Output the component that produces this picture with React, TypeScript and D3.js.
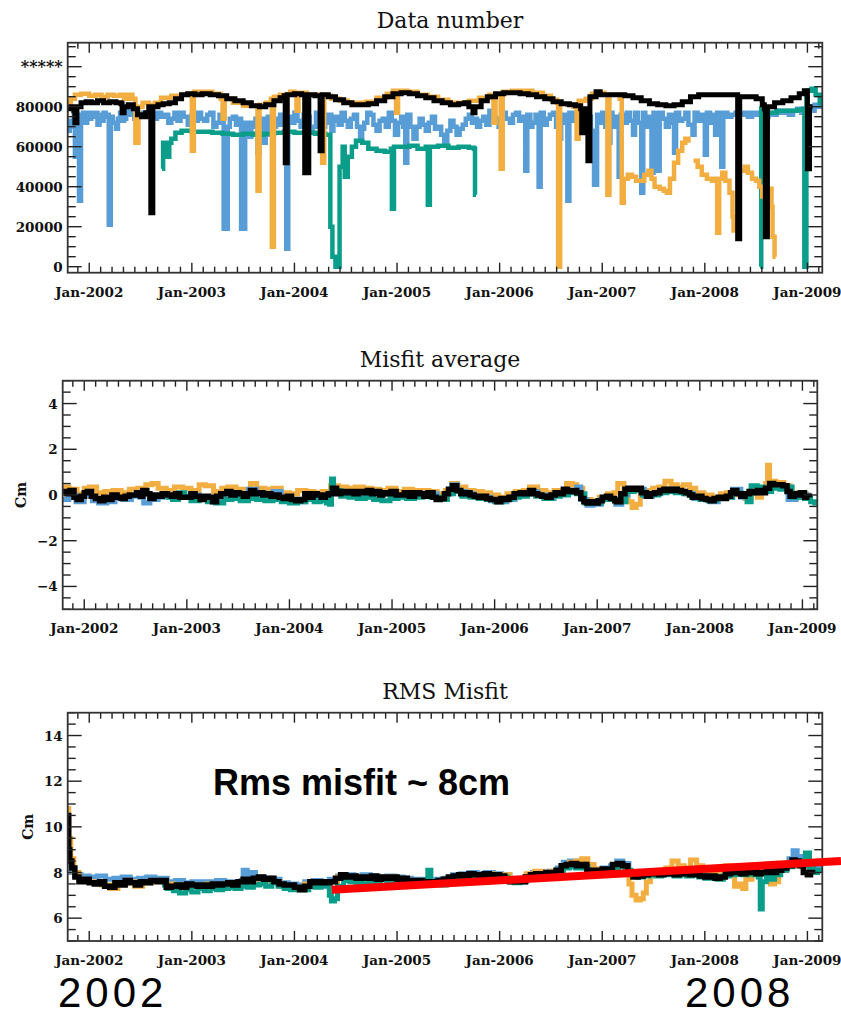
import React from 'react';
import * as d3 from 'd3';

type Pt = [number, number | null];

const years = [2002, 2003, 2004, 2005, 2006, 2007, 2008, 2009];
const xDomain: [number, number] = [2001.79, 2009.145];

const colors = { blue: '#589dd5', teal: '#0a9e8a', orange: '#f2ae40', black: '#000000' };

// ---- Data number panel
const dnTicks = [0, 20000, 40000, 60000, 80000, 100000];
const dnTickLabels = ['0', '20000', '40000', '60000', '80000', '*****'];

const dnBlack: Pt[] = [
  [2001.78, 79000], [2001.82, 80000], [2001.85, 78000], [2001.86, 72000], [2001.88, 80000], [2001.92, 82000],
  [2001.97, 82500], [2002.02, 82000], [2002.08, 83000], [2002.14, 82000], [2002.2, 82500], [2002.26, 82000],
  [2002.31, 81500], [2002.32, 77000], [2002.34, 80000], [2002.38, 81000], [2002.43, 79000], [2002.47, 76000],
  [2002.51, 75000], [2002.55, 77000], [2002.58, 80000], [2002.6, 27000], [2002.62, 80000], [2002.67, 81000],
  [2002.72, 81500], [2002.78, 82000], [2002.84, 84000], [2002.9, 86000], [2002.96, 86500], [2003.03, 86000],
  [2003.1, 86500], [2003.18, 86000], [2003.26, 85500], [2003.34, 84000], [2003.42, 83000], [2003.5, 82000],
  [2003.58, 80500], [2003.66, 80000], [2003.72, 81000], [2003.8, 83000], [2003.86, 84500], [2003.9, 85500],
  [2003.91, 52000], [2003.93, 86000], [2004.0, 86500], [2004.07, 86000], [2004.1, 47000], [2004.14, 86000],
  [2004.2, 85500], [2004.25, 58000], [2004.27, 86000], [2004.33, 85000], [2004.4, 83500], [2004.48, 82000],
  [2004.56, 81000], [2004.64, 81000], [2004.72, 81500], [2004.8, 83000], [2004.88, 85000], [2004.96, 86500],
  [2005.04, 87000], [2005.12, 86500], [2005.2, 85500], [2005.28, 84500], [2005.36, 83000], [2005.44, 82000],
  [2005.52, 81000], [2005.6, 81500], [2005.66, 82000], [2005.7, 80000], [2005.74, 77000], [2005.76, 80000],
  [2005.82, 83000], [2005.88, 85000], [2005.96, 86500], [2006.04, 87000], [2006.12, 87000], [2006.2, 86500],
  [2006.28, 86000], [2006.36, 85000], [2006.44, 84000], [2006.52, 82500], [2006.6, 81500], [2006.68, 81000],
  [2006.74, 80500], [2006.79, 79000], [2006.8, 67000], [2006.82, 79000], [2006.86, 53000], [2006.88, 85000],
  [2006.94, 87500], [2006.98, 86000], [2007.06, 86000], [2007.14, 86000], [2007.22, 85500], [2007.3, 84500],
  [2007.38, 83000], [2007.46, 81500], [2007.54, 81000], [2007.62, 80500], [2007.7, 81000], [2007.78, 82500],
  [2007.86, 85000], [2007.94, 86000], [2008.02, 86000], [2008.1, 86000], [2008.18, 86000], [2008.26, 86000],
  [2008.31, 86000], [2008.32, 14000], [2008.34, 85000], [2008.42, 85000], [2008.5, 84000], [2008.56, 81000],
  [2008.58, 79000], [2008.59, 15000], [2008.61, 80000], [2008.68, 82000], [2008.76, 83000], [2008.84, 84500],
  [2008.92, 86500], [2008.97, 88000], [2009.0, 49000], [2009.02, 80000], [2009.05, 80000],
];

const dnBlue: Pt[] = [
  [2001.76, 70000], [2001.79, 68000], [2001.81, 73000], [2001.83, 70000], [2001.85, 76000], [2001.86, 55000],
  [2001.88, 76000], [2001.9, 33000], [2001.92, 74000], [2001.94, 77000], [2001.96, 72000], [2001.98, 77000],
  [2002.0, 74000], [2002.02, 77000], [2002.04, 75000], [2002.06, 77000], [2002.08, 71000], [2002.1, 76000],
  [2002.12, 73000], [2002.14, 77000], [2002.16, 75000], [2002.18, 76000], [2002.19, 21000], [2002.21, 75000],
  [2002.23, 72000], [2002.26, 69000], [2002.28, 74000], [2002.3, 77000], [2002.32, 73000], [2002.34, 74000],
  [2002.36, 78000], [2002.38, 76000], [2002.4, 78000], [2002.42, 77000], [2002.44, 74000], [2002.46, 76000],
  [2002.5, 77000], [2002.55, 75000], [2002.6, 76000], [2002.63, 74000], [2002.66, 77000], [2002.7, 75000],
  [2002.74, 76000], [2002.77, 72000], [2002.8, 74000], [2002.83, 77000], [2002.86, 73000], [2002.89, 77000],
  [2002.92, 75000], [2002.96, 71000], [2003.0, 76000], [2003.03, 73000], [2003.06, 77000], [2003.09, 74000],
  [2003.12, 73000], [2003.15, 76000], [2003.18, 77000], [2003.21, 70000], [2003.24, 72000], [2003.27, 76000],
  [2003.29, 75000], [2003.31, 19000], [2003.35, 70000], [2003.37, 74000], [2003.4, 75000], [2003.43, 71000],
  [2003.46, 74000], [2003.48, 19000], [2003.52, 72000], [2003.54, 68000], [2003.56, 65000], [2003.58, 72000],
  [2003.6, 70000], [2003.62, 74000], [2003.64, 57000], [2003.66, 68000], [2003.68, 74000], [2003.7, 62000],
  [2003.72, 66000], [2003.74, 75000], [2003.76, 72000], [2003.78, 66000], [2003.8, 70000], [2003.82, 74000],
  [2003.84, 71000], [2003.86, 76000], [2003.88, 71000], [2003.92, 9000], [2003.94, 75000], [2003.97, 72000],
  [2004.0, 77000], [2004.03, 73000], [2004.06, 70000], [2004.09, 76000], [2004.12, 75000], [2004.15, 69000],
  [2004.18, 70000], [2004.21, 77000], [2004.24, 76000], [2004.27, 70000], [2004.3, 72000], [2004.33, 76000],
  [2004.36, 68000], [2004.38, 73000], [2004.4, 75000], [2004.43, 71000], [2004.46, 77000], [2004.49, 73000],
  [2004.52, 70000], [2004.55, 74000], [2004.58, 76000], [2004.61, 70000], [2004.64, 64000], [2004.66, 69000],
  [2004.68, 72000], [2004.71, 77000], [2004.74, 76000], [2004.77, 71000], [2004.8, 68000], [2004.83, 73000],
  [2004.86, 74000], [2004.89, 70000], [2004.92, 77000], [2004.95, 73000], [2004.98, 66000], [2005.01, 72000],
  [2005.04, 75000], [2005.06, 70000], [2005.08, 52000], [2005.1, 76000], [2005.13, 70000], [2005.16, 64000],
  [2005.19, 70000], [2005.22, 74000], [2005.25, 71000], [2005.28, 68000], [2005.31, 72000], [2005.34, 75000],
  [2005.37, 69000], [2005.4, 70000], [2005.43, 66000], [2005.46, 62000], [2005.49, 68000], [2005.52, 73000],
  [2005.55, 70000], [2005.58, 66000], [2005.61, 69000], [2005.64, 71000], [2005.67, 74000], [2005.7, 76000],
  [2005.73, 72000], [2005.76, 74000], [2005.78, 70000], [2005.81, 73000], [2005.84, 75000], [2005.87, 71000],
  [2005.9, 78000], [2005.93, 75000], [2005.96, 74000], [2005.99, 70000], [2006.02, 77000], [2006.06, 74000],
  [2006.1, 72000], [2006.13, 76000], [2006.16, 77000], [2006.19, 73000], [2006.22, 75000], [2006.25, 48000],
  [2006.27, 76000], [2006.3, 70000], [2006.32, 72000], [2006.35, 76000], [2006.38, 40000], [2006.4, 77000],
  [2006.43, 71000], [2006.46, 74000], [2006.49, 76000], [2006.52, 77000], [2006.55, 70000], [2006.58, 64000],
  [2006.6, 72000], [2006.62, 76000], [2006.66, 33000], [2006.68, 77000], [2006.71, 73000], [2006.74, 76000],
  [2006.77, 72000], [2006.8, 70000], [2006.83, 74000], [2006.86, 75000], [2006.89, 68000], [2006.92, 41000],
  [2006.95, 76000], [2006.98, 72000], [2007.0, 77000], [2007.03, 70000], [2007.06, 62000], [2007.08, 77000],
  [2007.1, 73000], [2007.12, 70000], [2007.14, 75000], [2007.16, 45000], [2007.18, 76000], [2007.21, 72000],
  [2007.24, 77000], [2007.27, 73000], [2007.3, 66000], [2007.32, 77000], [2007.35, 72000], [2007.38, 37000],
  [2007.4, 77000], [2007.42, 73000], [2007.44, 70000], [2007.46, 75000], [2007.48, 47000], [2007.5, 77000],
  [2007.52, 72000], [2007.54, 48000], [2007.56, 77000], [2007.59, 74000], [2007.62, 70000], [2007.65, 76000],
  [2007.68, 72000], [2007.7, 57000], [2007.72, 77000], [2007.75, 73000], [2007.78, 74000], [2007.81, 77000],
  [2007.84, 71000], [2007.88, 66000], [2007.9, 77000], [2007.93, 73000], [2007.96, 76000], [2008.0, 56000],
  [2008.02, 77000], [2008.05, 72000], [2008.08, 76000], [2008.1, 66000], [2008.12, 77000], [2008.14, 73000],
  [2008.16, 50000], [2008.18, 77000], [2008.22, 75000], [2008.26, 76000], [2008.3, 77000], [2008.34, 76000],
  [2008.38, 77000], [2008.42, 75000], [2008.46, 77000], [2008.5, 76000], [2008.54, 77000], [2008.58, 75000],
  [2008.62, 77000], [2008.66, 76000], [2008.7, 78000], [2008.74, 77000], [2008.78, 78000], [2008.82, 76000],
  [2008.86, 78000], [2008.9, 79000], [2008.94, 77000], [2008.98, 78000], [2009.01, 80000], [2009.04, 78000],
  [2009.07, 81000], [2009.1, 80000], [2009.14, 79000],
];

const dnTeal: Pt[] = [
  [2002.71, 49000], [2002.72, 62000], [2002.74, 57000], [2002.76, 55000], [2002.78, 62000], [2002.8, 64000],
  [2002.84, 67000], [2002.9, 68000], [2003.0, 67500], [2003.1, 67500], [2003.2, 67000], [2003.3, 66500],
  [2003.4, 66000], [2003.5, 66500], [2003.6, 66000], [2003.7, 66500], [2003.8, 67000], [2003.9, 67500],
  [2004.0, 67000], [2004.1, 67000], [2004.2, 66500], [2004.3, 66000], [2004.35, 20000], [2004.37, 5000],
  [2004.4, 0], [2004.44, 50000], [2004.47, 60000], [2004.49, 45000], [2004.52, 55000], [2004.56, 60000],
  [2004.6, 63000], [2004.66, 62000], [2004.72, 59000], [2004.8, 58000], [2004.88, 57500], [2004.94, 59000],
  [2004.95, 29000], [2004.97, 60000], [2005.04, 60000], [2005.12, 60500], [2005.2, 59000], [2005.28, 60000],
  [2005.3, 31000], [2005.32, 60000], [2005.4, 60500], [2005.5, 59500], [2005.6, 60000], [2005.7, 59500],
  [2005.75, 59000], [2005.76, 36000], [2005.77, 36000], [2005.78, null],
  [2008.53, null], [2008.54, 0], [2008.55, 79000], [2008.57, 72000], [2008.59, 68000], [2008.61, 77000],
  [2008.7, 78000], [2008.8, 78000], [2008.9, 78500], [2008.96, 79000], [2008.97, 0], [2008.99, 88000],
  [2009.04, 89000], [2009.08, 86000], [2009.12, 82000], [2009.14, 80000],
];

const dnOrange: Pt[] = [
  [2001.76, 75000], [2001.78, 82000], [2001.82, 84000], [2001.86, 86000], [2001.92, 86500], [2002.0, 85500],
  [2002.06, 86000], [2002.12, 85000], [2002.18, 86000], [2002.24, 85500], [2002.3, 86000], [2002.34, 84000],
  [2002.38, 86000], [2002.42, 84000], [2002.45, 62000], [2002.48, 80000], [2002.52, 82000], [2002.58, 81000],
  [2002.64, 82000], [2002.7, 84500], [2002.8, 85500], [2002.9, 86000], [2002.97, 86500], [2003.0, 58000],
  [2003.02, 87500], [2003.1, 87500], [2003.2, 86500], [2003.28, 84000], [2003.3, 74000], [2003.32, 84000],
  [2003.4, 82000], [2003.5, 80500], [2003.6, 80500], [2003.64, 38000], [2003.66, 81000], [2003.72, 82000],
  [2003.77, 84000], [2003.78, 10000], [2003.8, 85000], [2003.86, 86000], [2003.96, 87500], [2004.0, 87000],
  [2004.02, 78000], [2004.04, 87000], [2004.12, 86000], [2004.2, 86000], [2004.26, 86000], [2004.27, 52000],
  [2004.29, 85500], [2004.36, 84000], [2004.44, 83000], [2004.52, 82000], [2004.6, 82000], [2004.7, 82500],
  [2004.8, 84500], [2004.9, 86500], [2004.96, 88000], [2004.99, 77000], [2005.01, 88000], [2005.1, 87500],
  [2005.2, 86000], [2005.3, 85000], [2005.4, 83500], [2005.5, 82000], [2005.6, 82000], [2005.7, 83000],
  [2005.8, 84500], [2005.9, 86000], [2005.94, 72000], [2005.96, 86000], [2006.01, 49000], [2006.03, 87500],
  [2006.12, 88000], [2006.22, 88000], [2006.32, 87000], [2006.42, 85500], [2006.5, 83500], [2006.56, 82000],
  [2006.57, 0], [2006.59, 81500], [2006.66, 81000], [2006.72, 80000], [2006.75, 64000], [2006.77, 83000],
  [2006.84, 84000], [2006.9, 86500], [2006.96, 87000], [2007.02, 86000], [2007.05, 36000], [2007.07, 86000],
  [2007.12, 86000], [2007.17, 84000], [2007.19, 32000], [2007.21, 44000], [2007.25, 46000], [2007.29, 45000],
  [2007.33, 43000], [2007.37, 43000], [2007.41, 46000], [2007.45, 48000], [2007.48, 44000], [2007.51, 40000],
  [2007.56, 39000], [2007.6, 38000], [2007.63, 37000], [2007.66, 44000], [2007.7, 52000], [2007.74, 58000],
  [2007.78, 62000], [2007.81, 64000], [2007.84, 62000], [2007.86, null], [2007.89, 53000], [2007.93, 50000],
  [2007.97, 46000], [2008.02, 44000], [2008.07, 43000], [2008.1, 44000], [2008.12, 17000], [2008.14, 44000],
  [2008.17, 47000], [2008.2, 43000], [2008.24, 37000], [2008.27, 25000], [2008.28, 17000], [2008.3, null],
  [2008.36, 48000], [2008.39, 50000], [2008.42, 47000], [2008.46, 44000], [2008.5, 43000], [2008.53, 40000],
  [2008.56, 34000], [2008.58, null], [2008.6, 39000], [2008.63, 39000], [2008.65, 30000], [2008.66, 15000],
  [2008.68, 5000], [2008.69, 5000],
];

// ---- Misfit average panel
const maTicks = [-4, -2, 0, 2, 4];
const maTickLabels = ['\u22124', '\u22122', '0', '2', '4'];

const maBlack: Pt[] = [
  [2001.79, 0.15], [2001.83, 0.05], [2001.86, 0.2], [2001.9, -0.1], [2001.93, -0.2], [2001.97, -0.05],
  [2002.0, 0.1], [2002.03, 0.15], [2002.07, -0.05], [2002.11, -0.15], [2002.15, -0.25], [2002.19, -0.1],
  [2002.23, -0.2], [2002.27, 0.0], [2002.32, -0.1], [2002.36, -0.15], [2002.4, -0.05], [2002.44, 0.0],
  [2002.47, 0.0], [2002.51, 0.1], [2002.55, -0.05], [2002.57, 0.2], [2002.61, 0.05], [2002.64, -0.15],
  [2002.68, 0.0], [2002.72, -0.05], [2002.76, 0.05], [2002.81, 0.0], [2002.85, -0.05], [2002.89, 0.05],
  [2002.93, -0.1], [2003.0, -0.1], [2003.04, 0.05], [2003.08, -0.05], [2003.13, -0.2], [2003.17, -0.05],
  [2003.21, -0.1], [2003.25, -0.3], [2003.29, -0.05], [2003.33, 0.05], [2003.39, 0.15], [2003.43, 0.0],
  [2003.47, 0.1], [2003.51, 0.05], [2003.55, -0.05], [2003.59, 0.05], [2003.62, 0.2], [2003.66, 0.05],
  [2003.7, 0.1], [2003.74, 0.0], [2003.78, 0.05], [2003.82, -0.05], [2003.86, 0.0], [2003.9, -0.1],
  [2003.94, -0.15], [2003.98, -0.05], [2004.02, -0.2], [2004.06, -0.25], [2004.11, -0.2], [2004.15, 0.05],
  [2004.19, -0.1], [2004.23, 0.05], [2004.27, 0.0], [2004.31, -0.1], [2004.35, 0.0], [2004.38, 0.05],
  [2004.42, 0.3], [2004.46, 0.05], [2004.5, 0.15], [2004.55, 0.1], [2004.59, 0.15], [2004.63, 0.05],
  [2004.67, 0.15], [2004.72, 0.1], [2004.76, 0.2], [2004.8, 0.05], [2004.84, 0.15], [2004.88, 0.0],
  [2004.91, 0.1], [2004.95, 0.05], [2004.99, 0.15], [2005.04, 0.0], [2005.08, 0.0], [2005.12, 0.1],
  [2005.17, -0.05], [2005.22, 0.1], [2005.27, 0.05], [2005.31, -0.05], [2005.35, 0.1], [2005.4, -0.1],
  [2005.43, -0.2], [2005.47, -0.15], [2005.51, 0.05], [2005.55, 0.25], [2005.59, 0.4], [2005.63, 0.2],
  [2005.67, 0.05], [2005.71, 0.1], [2005.76, 0.0], [2005.8, -0.05], [2005.84, -0.1], [2005.88, -0.05],
  [2005.92, -0.15], [2005.96, -0.2], [2006.02, -0.3], [2006.06, -0.15], [2006.1, -0.2], [2006.14, -0.1],
  [2006.19, 0.05], [2006.25, 0.1], [2006.3, 0.05], [2006.34, 0.2], [2006.38, 0.05], [2006.42, 0.0],
  [2006.46, -0.05], [2006.51, -0.1], [2006.55, 0.0], [2006.59, 0.1], [2006.63, 0.05], [2006.67, 0.25],
  [2006.71, 0.15], [2006.76, 0.2], [2006.8, 0.1], [2006.84, -0.15], [2006.87, -0.3], [2006.9, -0.35],
  [2006.94, -0.3], [2006.97, -0.35], [2007.01, -0.25], [2007.05, -0.1], [2007.09, -0.05], [2007.13, -0.15],
  [2007.17, -0.25], [2007.19, -0.3], [2007.23, 0.05], [2007.27, 0.25], [2007.3, 0.3], [2007.34, 0.25],
  [2007.39, 0.3], [2007.43, 0.1], [2007.48, -0.05], [2007.52, 0.05], [2007.56, 0.1], [2007.61, 0.2],
  [2007.65, 0.25], [2007.69, 0.2], [2007.74, 0.25], [2007.78, 0.2], [2007.82, 0.15], [2007.86, 0.1],
  [2007.9, 0.0], [2007.93, -0.1], [2007.97, -0.05], [2008.02, -0.15], [2008.06, -0.2], [2008.1, -0.25],
  [2008.14, -0.15], [2008.18, -0.1], [2008.22, -0.15], [2008.26, -0.05], [2008.3, 0.1], [2008.32, 0.2],
  [2008.36, 0.05], [2008.4, -0.05], [2008.44, 0.05], [2008.48, 0.15], [2008.52, 0.1], [2008.56, 0.2],
  [2008.6, 0.1], [2008.64, 0.3], [2008.68, 0.5], [2008.72, 0.45], [2008.76, 0.45], [2008.81, 0.4],
  [2008.85, 0.15], [2008.88, -0.05], [2008.92, 0.05], [2008.96, 0.0], [2008.98, 0.1], [2009.02, -0.1],
  [2009.04, -0.05], [2009.07, -0.1],
];

const maOrange: Pt[] = [
  [2001.79, 0.35], [2001.85, 0.25], [2001.93, 0.05], [2002.0, 0.3], [2002.05, 0.35], [2002.12, 0.1],
  [2002.2, 0.15], [2002.28, 0.2], [2002.36, 0.1], [2002.44, 0.25], [2002.52, 0.3], [2002.6, 0.45],
  [2002.66, 0.5], [2002.72, 0.3], [2002.8, 0.2], [2002.88, 0.35], [2002.96, 0.3], [2003.04, 0.2],
  [2003.12, 0.45], [2003.18, 0.4], [2003.26, 0.15], [2003.34, 0.3], [2003.4, 0.35], [2003.48, 0.25],
  [2003.56, 0.2], [2003.62, 0.5], [2003.68, 0.3], [2003.76, 0.25], [2003.84, 0.3], [2003.92, 0.1],
  [2004.0, 0.05], [2004.08, 0.2], [2004.16, 0.15], [2004.24, 0.1], [2004.32, 0.15], [2004.4, 0.4],
  [2004.48, 0.35], [2004.56, 0.3], [2004.64, 0.35], [2004.72, 0.3], [2004.8, 0.25], [2004.88, 0.2],
  [2004.96, 0.3], [2005.04, 0.15], [2005.12, 0.25], [2005.2, 0.2], [2005.28, 0.2], [2005.36, 0.15],
  [2005.44, 0.05], [2005.52, 0.2], [2005.58, 0.5], [2005.64, 0.35], [2005.72, 0.2], [2005.8, 0.15],
  [2005.88, 0.1], [2005.96, 0.0], [2006.04, -0.1], [2006.12, 0.05], [2006.2, 0.15], [2006.28, 0.2],
  [2006.34, 0.35], [2006.42, 0.2], [2006.5, 0.1], [2006.58, 0.2], [2006.64, 0.2], [2006.7, 0.5],
  [2006.76, 0.45], [2006.8, 0.3], [2006.86, -0.2], [2006.94, -0.25], [2007.02, -0.1], [2007.1, 0.05],
  [2007.16, 0.1], [2007.2, 0.5], [2007.26, 0.25], [2007.3, -0.3], [2007.34, -0.55], [2007.38, -0.4],
  [2007.42, 0.1], [2007.48, 0.2], [2007.54, 0.3], [2007.6, 0.35], [2007.66, 0.6], [2007.72, 0.45],
  [2007.78, 0.35], [2007.84, 0.45], [2007.9, 0.3], [2007.96, 0.1], [2008.04, 0.0], [2008.12, -0.1],
  [2008.2, 0.05], [2008.26, 0.1], [2008.32, 0.2], [2008.38, 0.0], [2008.44, -0.15], [2008.5, 0.1],
  [2008.56, -0.1], [2008.6, 0.15], [2008.64, 0.5], [2008.66, 1.3], [2008.68, 0.6], [2008.74, 0.55],
  [2008.82, 0.4], [2008.88, 0.1], [2008.96, 0.05], [2009.04, -0.05],
];

const maBlue: Pt[] = [
  [2001.79, -0.2], [2001.85, 0.0], [2001.92, -0.3], [2002.0, -0.05], [2002.08, -0.25], [2002.14, -0.35],
  [2002.22, -0.3], [2002.3, -0.15], [2002.38, -0.2], [2002.46, -0.05], [2002.54, -0.1], [2002.58, -0.35],
  [2002.64, -0.2], [2002.72, -0.1], [2002.8, -0.05], [2002.88, 0.0], [2002.96, -0.1], [2003.04, 0.0],
  [2003.12, -0.15], [2003.2, -0.1], [2003.28, -0.2], [2003.36, 0.05], [2003.44, 0.1], [2003.52, 0.0],
  [2003.6, 0.25], [2003.68, 0.1], [2003.76, 0.0], [2003.84, 0.15], [2003.92, -0.15], [2004.0, -0.25],
  [2004.08, -0.3], [2004.16, -0.05], [2004.24, -0.1], [2004.32, -0.15], [2004.4, 0.1], [2004.48, 0.15],
  [2004.56, 0.05], [2004.64, 0.1], [2004.72, 0.05], [2004.8, 0.1], [2004.88, 0.05], [2004.96, 0.1],
  [2005.04, -0.05], [2005.12, 0.05], [2005.2, 0.0], [2005.28, 0.0], [2005.36, 0.05], [2005.44, -0.2],
  [2005.52, 0.05], [2005.58, 0.45], [2005.64, 0.15], [2005.72, 0.05], [2005.8, -0.05], [2005.88, -0.1],
  [2005.96, -0.25], [2006.04, -0.3], [2006.12, -0.2], [2006.2, 0.0], [2006.28, 0.05], [2006.34, 0.15],
  [2006.42, 0.0], [2006.5, -0.15], [2006.58, 0.05], [2006.64, 0.05], [2006.7, 0.2], [2006.76, 0.15],
  [2006.8, 0.35], [2006.84, -0.2], [2006.9, -0.45], [2006.96, -0.4], [2007.04, -0.15], [2007.12, -0.2],
  [2007.18, -0.4], [2007.24, 0.0], [2007.3, 0.25], [2007.38, 0.25], [2007.46, -0.05], [2007.54, 0.05],
  [2007.62, 0.2], [2007.7, 0.25], [2007.78, 0.15], [2007.86, 0.05], [2007.94, -0.15], [2008.02, -0.2],
  [2008.1, -0.3], [2008.18, -0.15], [2008.26, -0.1], [2008.32, 0.25], [2008.4, -0.1], [2008.48, 0.1],
  [2008.56, 0.15], [2008.64, 0.25], [2008.7, 0.45], [2008.78, 0.35], [2008.86, -0.2], [2008.94, -0.1],
  [2009.0, 0.0], [2009.06, -0.2],
];

const maTeal: Pt[] = [
  [2002.8, -0.1], [2002.86, -0.2], [2002.92, 0.1], [2002.98, -0.05], [2003.04, -0.25], [2003.12, -0.15],
  [2003.2, -0.3], [2003.28, -0.35], [2003.36, -0.2], [2003.44, -0.15], [2003.52, -0.25], [2003.6, -0.15],
  [2003.68, -0.2], [2003.76, -0.25], [2003.84, -0.2], [2003.92, -0.3], [2004.0, -0.35], [2004.08, -0.3],
  [2004.16, -0.2], [2004.24, -0.3], [2004.3, -0.25], [2004.36, -0.35], [2004.39, -0.4], [2004.41, 0.7],
  [2004.43, 0.2], [2004.5, -0.05], [2004.58, -0.1], [2004.66, -0.15], [2004.74, -0.1], [2004.82, -0.2],
  [2004.9, -0.25], [2004.98, -0.15], [2005.06, -0.1], [2005.14, -0.15], [2005.22, -0.1], [2005.3, -0.05],
  [2005.38, -0.1], [2005.46, -0.2], [2005.54, 0.05], [2005.6, 0.15], [2005.68, -0.05], [2005.76, -0.1],
  [2005.84, -0.15], [2005.92, -0.2], [2006.0, -0.3], [2006.08, -0.2], [2006.16, -0.1], [2006.24, -0.05],
  [2006.32, 0.05], [2006.4, -0.05], [2006.48, -0.15], [2006.56, -0.05], [2006.64, 0.0], [2006.72, 0.1],
  [2006.8, 0.05], [2006.88, -0.35], [2006.96, -0.35], [2007.04, -0.2], [2007.12, -0.2], [2007.2, -0.3],
  [2007.28, 0.15], [2007.36, 0.2], [2007.44, 0.0], [2007.52, 0.0], [2007.6, 0.1], [2007.68, 0.15],
  [2007.76, 0.1], [2007.84, 0.05], [2007.92, -0.1], [2008.0, -0.2], [2008.08, -0.25], [2008.16, -0.15],
  [2008.24, -0.1], [2008.32, 0.1], [2008.4, -0.05], [2008.46, -0.3], [2008.5, 0.4], [2008.56, 0.35],
  [2008.62, 0.15], [2008.7, 0.3], [2008.78, 0.25], [2008.84, 0.35], [2008.9, -0.1], [2008.96, 0.05],
  [2009.02, -0.15], [2009.08, -0.3], [2009.12, -0.35], [2009.14, -0.25],
];

// ---- RMS misfit panel
const rmsTicks = [6, 8, 10, 12, 14];
const rmsTickLabels = ['6', '8', '10', '12', '14'];
const rmsTrend: [number, number][] = [[2004.363, 7.24], [2009.327, 8.5]];

const rmsBlack: Pt[] = [
  [2001.79, 10.5], [2001.8, 9.0], [2001.81, 8.5], [2001.83, 8.2], [2001.86, 7.8], [2001.9, 7.6],
  [2001.95, 7.7], [2002.0, 7.55], [2002.05, 7.5], [2002.1, 7.6], [2002.15, 7.4], [2002.2, 7.35],
  [2002.25, 7.55], [2002.3, 7.45], [2002.35, 7.65], [2002.4, 7.55], [2002.45, 7.45], [2002.5, 7.6],
  [2002.55, 7.55], [2002.6, 7.65], [2002.66, 7.6], [2002.7, 7.65], [2002.75, 7.35], [2002.8, 7.4],
  [2002.85, 7.45], [2002.9, 7.35], [2002.95, 7.5], [2003.0, 7.45], [2003.05, 7.4], [2003.1, 7.45],
  [2003.15, 7.4], [2003.2, 7.5], [2003.25, 7.45], [2003.3, 7.5], [2003.35, 7.55], [2003.4, 7.45],
  [2003.45, 7.6], [2003.5, 7.7], [2003.55, 7.6], [2003.6, 7.75], [2003.65, 7.8], [2003.7, 7.7],
  [2003.75, 7.75], [2003.8, 7.6], [2003.85, 7.5], [2003.9, 7.45], [2003.95, 7.45], [2004.0, 7.35],
  [2004.05, 7.25], [2004.1, 7.4], [2004.15, 7.6], [2004.2, 7.55], [2004.25, 7.6], [2004.3, 7.55],
  [2004.35, 7.6], [2004.4, 7.75], [2004.45, 7.9], [2004.5, 7.8], [2004.55, 7.85], [2004.6, 7.75],
  [2004.65, 7.8], [2004.7, 7.75], [2004.75, 7.85], [2004.8, 7.7], [2004.85, 7.8], [2004.9, 7.75],
  [2004.95, 7.8], [2005.0, 7.7], [2005.05, 7.75], [2005.1, 7.65], [2005.15, 7.6], [2005.2, 7.65],
  [2005.25, 7.55], [2005.3, 7.6], [2005.35, 7.55], [2005.4, 7.65], [2005.45, 7.7], [2005.5, 7.8],
  [2005.55, 7.85], [2005.6, 7.9], [2005.65, 7.85], [2005.7, 7.95], [2005.75, 7.9], [2005.8, 7.85],
  [2005.85, 7.95], [2005.9, 7.85], [2005.95, 7.9], [2006.0, 7.85], [2006.05, 7.7], [2006.1, 7.6],
  [2006.15, 7.65], [2006.2, 7.6], [2006.25, 7.8], [2006.3, 7.9], [2006.35, 7.95], [2006.4, 7.9],
  [2006.45, 8.0], [2006.5, 7.95], [2006.55, 8.1], [2006.6, 8.3], [2006.65, 8.35], [2006.7, 8.4],
  [2006.75, 8.3], [2006.8, 8.35], [2006.85, 8.1], [2006.9, 8.05], [2006.95, 8.1], [2007.0, 8.15],
  [2007.05, 8.1], [2007.1, 8.35], [2007.15, 8.4], [2007.2, 8.3], [2007.25, 7.95], [2007.3, 7.8],
  [2007.35, 7.85], [2007.4, 7.9], [2007.45, 8.0], [2007.5, 7.95], [2007.55, 7.9], [2007.6, 8.0],
  [2007.65, 7.95], [2007.7, 7.9], [2007.75, 8.0], [2007.8, 7.95], [2007.85, 7.9], [2007.9, 8.0],
  [2007.95, 7.85], [2008.0, 7.8], [2008.05, 7.85], [2008.1, 7.75], [2008.15, 7.8], [2008.2, 7.95],
  [2008.25, 8.0], [2008.3, 8.05], [2008.35, 7.95], [2008.4, 8.0], [2008.45, 8.05], [2008.5, 7.95],
  [2008.55, 8.0], [2008.6, 8.05], [2008.65, 8.0], [2008.7, 8.1], [2008.75, 8.2], [2008.8, 8.3],
  [2008.85, 8.55], [2008.88, 8.5], [2008.92, 8.3], [2008.96, 8.0], [2009.0, 7.9], [2009.03, 8.0],
  [2009.05, 7.95],
];

const rmsBlue: Pt[] = [
  [2001.79, 8.4], [2001.82, 8.0], [2001.86, 7.9], [2001.92, 7.85], [2002.0, 7.8], [2002.08, 7.85],
  [2002.16, 7.7], [2002.24, 7.75], [2002.32, 7.8], [2002.4, 7.7], [2002.48, 7.75], [2002.56, 7.8],
  [2002.64, 7.75], [2002.7, 7.75], [2002.76, 7.6], [2002.84, 7.65], [2002.92, 7.55], [2003.0, 7.6],
  [2003.08, 7.6], [2003.16, 7.6], [2003.24, 7.65], [2003.32, 7.6], [2003.4, 7.6], [2003.48, 7.65],
  [2003.5, 8.1], [2003.54, 7.7], [2003.58, 8.0], [2003.62, 7.8], [2003.7, 7.75], [2003.78, 7.7],
  [2003.86, 7.55], [2003.94, 7.5], [2004.02, 7.45], [2004.1, 7.6], [2004.18, 7.65], [2004.26, 7.6],
  [2004.34, 7.7], [2004.42, 7.85], [2004.5, 7.9], [2004.58, 7.85], [2004.66, 7.9], [2004.74, 7.85],
  [2004.82, 7.8], [2004.9, 7.85], [2004.98, 7.8], [2005.06, 7.75], [2005.14, 7.7], [2005.22, 7.7],
  [2005.3, 7.65], [2005.38, 7.7], [2005.46, 7.75], [2005.54, 7.9], [2005.62, 7.95], [2005.7, 8.0],
  [2005.78, 7.95], [2005.86, 8.0], [2005.94, 7.95], [2006.02, 7.9], [2006.1, 7.7], [2006.18, 7.7],
  [2006.26, 7.9], [2006.32, 8.0], [2006.4, 7.95], [2006.48, 8.05], [2006.56, 8.2], [2006.62, 8.45],
  [2006.68, 8.5], [2006.76, 8.4], [2006.84, 8.2], [2006.92, 8.1], [2007.0, 8.2], [2007.08, 8.3],
  [2007.14, 8.5], [2007.2, 8.4], [2007.26, 8.0], [2007.32, 7.95], [2007.4, 8.0], [2007.48, 8.05],
  [2007.56, 8.0], [2007.64, 8.1], [2007.72, 8.05], [2007.8, 8.0], [2007.88, 8.0], [2007.96, 7.95],
  [2008.04, 7.9], [2008.12, 7.85], [2008.2, 8.0], [2008.28, 8.1], [2008.36, 8.05], [2008.44, 8.1],
  [2008.52, 8.05], [2008.6, 8.1], [2008.68, 8.2], [2008.76, 8.35], [2008.82, 8.6], [2008.86, 8.95],
  [2008.9, 8.7], [2008.96, 8.4], [2009.02, 8.2], [2009.08, 8.3], [2009.14, 8.25],
];

const rmsOrange: Pt[] = [
  [2001.79, 10.8], [2001.8, 9.5], [2001.82, 8.6], [2001.85, 8.0], [2001.9, 7.7], [2001.96, 7.6],
  [2002.04, 7.55], [2002.12, 7.45], [2002.2, 7.3], [2002.28, 7.5], [2002.36, 7.6], [2002.44, 7.4],
  [2002.52, 7.55], [2002.6, 7.6], [2002.68, 7.65], [2002.74, 7.5], [2002.82, 7.45], [2002.9, 7.4],
  [2002.98, 7.45], [2003.06, 7.45], [2003.14, 7.5], [2003.22, 7.45], [2003.3, 7.5], [2003.38, 7.5],
  [2003.46, 7.55], [2003.54, 7.6], [2003.62, 7.7], [2003.7, 7.55], [2003.78, 7.6], [2003.86, 7.4],
  [2003.94, 7.3], [2004.02, 7.35], [2004.1, 7.5], [2004.18, 7.55], [2004.26, 7.5], [2004.34, 7.6],
  [2004.42, 7.8], [2004.5, 7.75], [2004.58, 7.8], [2004.66, 7.75], [2004.74, 7.8], [2004.82, 7.75],
  [2004.9, 7.8], [2004.98, 7.7], [2005.06, 7.65], [2005.14, 7.6], [2005.22, 7.6], [2005.3, 7.55],
  [2005.38, 7.6], [2005.46, 7.7], [2005.54, 7.8], [2005.62, 7.85], [2005.7, 7.9], [2005.78, 7.85],
  [2005.86, 7.95], [2005.94, 7.85], [2006.02, 7.9], [2006.1, 7.65], [2006.18, 7.65], [2006.26, 7.95],
  [2006.34, 8.05], [2006.42, 8.0], [2006.5, 8.05], [2006.56, 8.1], [2006.62, 8.3], [2006.68, 8.45],
  [2006.74, 8.5], [2006.8, 8.6], [2006.86, 8.35], [2006.92, 8.15], [2006.98, 8.05], [2007.04, 8.0],
  [2007.1, 8.05], [2007.16, 8.0], [2007.22, 7.9], [2007.26, 7.5], [2007.29, 7.0], [2007.33, 6.8],
  [2007.37, 6.85], [2007.4, 7.1], [2007.43, 7.6], [2007.47, 8.0], [2007.54, 8.1], [2007.62, 8.2],
  [2007.68, 8.5], [2007.74, 8.3], [2007.8, 8.2], [2007.86, 8.55], [2007.92, 8.3], [2007.98, 8.1],
  [2008.06, 8.05], [2008.14, 8.1], [2008.2, 8.3], [2008.26, 8.0], [2008.29, 7.4], [2008.33, 7.5],
  [2008.37, 7.3], [2008.4, 7.7], [2008.46, 8.0], [2008.54, 8.1], [2008.6, 8.0], [2008.64, 7.5],
  [2008.68, 7.6], [2008.72, 8.1], [2008.8, 8.3], [2008.88, 8.35], [2008.94, 8.25], [2009.0, 8.1],
  [2009.05, 8.15],
];

const rmsTeal: Pt[] = [
  [2002.71, 7.45], [2002.76, 7.3], [2002.82, 7.2], [2002.88, 7.1], [2002.94, 7.25], [2003.0, 7.15],
  [2003.06, 7.3], [2003.12, 7.2], [2003.18, 7.3], [2003.24, 7.25], [2003.3, 7.3], [2003.36, 7.35],
  [2003.42, 7.3], [2003.48, 7.4], [2003.54, 7.35], [2003.6, 7.45], [2003.66, 7.5], [2003.72, 7.4],
  [2003.78, 7.55], [2003.84, 7.4], [2003.9, 7.3], [2003.96, 7.25], [2004.02, 7.3], [2004.08, 7.25],
  [2004.14, 7.4], [2004.2, 7.35], [2004.26, 7.45], [2004.3, 7.4], [2004.34, 7.0], [2004.36, 6.75],
  [2004.39, 6.85], [2004.42, 7.4], [2004.48, 7.65], [2004.54, 7.6], [2004.6, 7.55], [2004.66, 7.5],
  [2004.72, 7.6], [2004.78, 7.55], [2004.84, 7.7], [2004.9, 7.65], [2004.96, 7.75], [2005.02, 7.6],
  [2005.08, 7.55], [2005.14, 7.5], [2005.2, 7.55], [2005.26, 7.5], [2005.3, 8.1], [2005.33, 7.5],
  [2005.36, 7.55], [2005.42, 7.45], [2005.48, 7.6], [2005.54, 7.7], [2005.6, 7.75], [2005.66, 7.8],
  [2005.72, 7.75], [2005.78, 7.8], [2005.84, 7.85], [2005.9, 7.8], [2005.96, 7.85], [2006.02, 7.8],
  [2006.08, 7.6], [2006.14, 7.55], [2006.2, 7.6], [2006.26, 7.75], [2006.32, 7.85], [2006.38, 7.9],
  [2006.44, 7.95], [2006.5, 7.9], [2006.56, 8.0], [2006.62, 8.2], [2006.68, 8.25], [2006.74, 8.2],
  [2006.8, 8.25], [2006.86, 8.0], [2006.92, 8.0], [2006.98, 8.05], [2007.04, 8.0], [2007.1, 8.2],
  [2007.16, 8.3], [2007.22, 8.1], [2007.28, 7.9], [2007.34, 7.8], [2007.4, 7.85], [2007.46, 7.9],
  [2007.52, 7.85], [2007.58, 7.9], [2007.64, 7.95], [2007.7, 7.85], [2007.76, 7.9], [2007.82, 7.85],
  [2007.88, 7.9], [2007.94, 7.8], [2008.0, 7.75], [2008.06, 7.8], [2008.12, 7.7], [2008.18, 7.85],
  [2008.24, 7.9], [2008.3, 7.95], [2008.36, 7.9], [2008.42, 7.95], [2008.48, 7.9], [2008.52, 7.8],
  [2008.54, 6.4], [2008.56, 7.6], [2008.6, 7.9], [2008.64, 7.7], [2008.68, 7.9], [2008.74, 8.1],
  [2008.8, 8.25], [2008.86, 8.4], [2008.92, 8.5], [2008.96, 8.3], [2008.98, 8.85], [2009.02, 8.2],
  [2009.06, 8.0], [2009.1, 8.1], [2009.14, 8.15],
];

const serif = '"DejaVu Serif", serif';
const sans = '"Liberation Sans", Arial, sans-serif';

type Series = { data: Pt[]; color: string; width: number };

type PanelProps = {
  id: string;
  left: number;
  right: number;
  top: number;
  bottom: number;
  yDomain: [number, number];
  yTicks: number[];
  yLabels: string[];
  yMinor: number;
  series: Series[];
  title: string;
  titleX: number;
  titleY: number;
  yTitleX?: number;
  children?: (x: d3.ScaleLinear<number, number>, y: d3.ScaleLinear<number, number>) => React.ReactNode;
};

function Panel(p: PanelProps) {
  const x = d3.scaleLinear().domain(xDomain).range([p.left, p.right]);
  const y = d3.scaleLinear().domain(p.yDomain).range([p.bottom, p.top]);
  const line = d3
    .line<Pt>()
    .defined((d) => d[1] != null)
    .x((d) => x(d[0]))
    .y((d) => y(d[1] as number))
    .curve(d3.curveStepAfter);

  // IDL-style ticks: 9 minor intervals per year, major at January
  const xMinor: { t: number; major: boolean }[] = [];
  for (let yr = 2001; yr <= 2009; yr++) {
    for (let k = 0; k < 9; k++) {
      const t = yr + k / 9;
      if (t >= xDomain[0] && t <= xDomain[1]) xMinor.push({ t, major: k === 0 });
    }
  }
  const yMinorVals = d3.range(Math.ceil(p.yDomain[0] / p.yMinor) * p.yMinor, p.yDomain[1] + 1e-9, p.yMinor);
  const isMajorY = (v: number) => p.yTicks.some((t) => Math.abs(t - v) < 1e-6);

  const tk = '#222';
  return (
    <g>
      <defs>
        <clipPath id={p.id}>
          <rect x={p.left} y={p.top} width={p.right - p.left} height={p.bottom - p.top} />
        </clipPath>
      </defs>
      <text x={p.titleX} y={p.titleY} textAnchor="middle" fontFamily={serif} fontSize={22} fill="#111">
        {p.title}
      </text>
      <g clipPath={`url(#${p.id})`}>
        {p.series.map((s, i) => (
          <path key={i} d={line(s.data) || ''} fill="none" stroke={s.color} strokeWidth={s.width} />
        ))}
      </g>
      {xMinor.map(({ t, major }, i) => (
        <g key={'x' + i} stroke={tk} strokeWidth={1.4}>
          <line x1={x(t)} x2={x(t)} y1={p.bottom} y2={p.bottom - (major ? 10 : 6)} />
          <line x1={x(t)} x2={x(t)} y1={p.top} y2={p.top + (major ? 10 : 6)} />
        </g>
      ))}
      {yMinorVals.map((v, i) => (
        <g key={'y' + i} stroke={tk} strokeWidth={1.4}>
          <line x1={p.left} x2={p.left + (isMajorY(v) ? 14 : 8)} y1={y(v)} y2={y(v)} />
          <line x1={p.right} x2={p.right - (isMajorY(v) ? 14 : 8)} y1={y(v)} y2={y(v)} />
        </g>
      ))}
      <rect
        x={p.left}
        y={p.top}
        width={p.right - p.left}
        height={p.bottom - p.top}
        fill="none"
        stroke="#333"
        strokeWidth={1.8}
      />
      {years.map((yr) => (
        <text
          key={yr}
          x={x(yr)}
          y={p.bottom + 24}
          textAnchor="middle"
          fontFamily={serif}
          fontWeight="bold"
          fontSize={13.5}
          fill="#111"
        >
          {`Jan-${yr}`}
        </text>
      ))}
      {p.yTicks.map((v, i) => (
        <text
          key={v}
          x={p.left - 5}
          y={y(v) + 5}
          textAnchor="end"
          fontFamily={serif}
          fontWeight="bold"
          fontSize={p.yLabels[i] === '*****' ? 16 : 13.5}
          fill="#111"
        >
          {p.yLabels[i]}
        </text>
      ))}
      {p.yTitleX != null && (
        <text
          transform={`translate(${p.yTitleX},${(p.top + p.bottom) / 2}) rotate(-90)`}
          textAnchor="middle"
          fontFamily={serif}
          fontWeight="bold"
          fontSize={14}
          fill="#111"
        >
          Cm
        </text>
      )}
      {p.children && p.children(x, y)}
    </g>
  );
}

export default function App() {
  const dnSeries: Series[] = [
    { data: dnBlue, color: colors.blue, width: 4.5 },
    { data: dnTeal, color: colors.teal, width: 4.5 },
    { data: dnOrange, color: colors.orange, width: 4.5 },
    { data: dnBlack, color: colors.black, width: 5 },
  ];
  const maSeries: Series[] = [
    { data: maOrange, color: colors.orange, width: 5 },
    { data: maBlue, color: colors.blue, width: 5 },
    { data: maTeal, color: colors.teal, width: 5 },
    { data: maBlack, color: colors.black, width: 5.5 },
  ];
  const rmsSeries: Series[] = [
    { data: rmsBlue, color: colors.blue, width: 5 },
    { data: rmsOrange, color: colors.orange, width: 5 },
    { data: rmsTeal, color: colors.teal, width: 5 },
    { data: rmsBlack, color: colors.black, width: 5.5 },
  ];

  return (
    <svg
      width={841}
      height={1016}
      style={{ position: 'absolute', left: 0, top: 0, background: '#fff' }}
    >
      <rect width={841} height={1016} fill="#fff" />
      <Panel
        id="clip-dn"
        left={67.7}
        right={822.3}
        top={42.7}
        bottom={272.7}
        yDomain={[-3000, 112000]}
        yTicks={dnTicks}
        yLabels={dnTickLabels}
        yMinor={5000}
        series={dnSeries}
        title="Data number"
        titleX={450}
        titleY={28}
      />
      <Panel
        id="clip-ma"
        left={62.7}
        right={817.3}
        top={380.7}
        bottom={609.3}
        yDomain={[-5, 5]}
        yTicks={maTicks}
        yLabels={maTickLabels}
        yMinor={0.5}
        series={maSeries}
        title="Misfit average"
        titleX={440}
        titleY={367}
        yTitleX={26}
      />
      <Panel
        id="clip-rms"
        left={67.7}
        right={822.3}
        top={712.7}
        bottom={941}
        yDomain={[5, 15]}
        yTicks={rmsTicks}
        yLabels={rmsTickLabels}
        yMinor={0.5}
        series={rmsSeries}
        title="RMS Misfit"
        titleX={445}
        titleY={699}
        yTitleX={32.5}
      >
        {(x, y) => (
          <g>
            <line
              x1={x(rmsTrend[0][0])}
              y1={y(rmsTrend[0][1])}
              x2={x(rmsTrend[1][0])}
              y2={y(rmsTrend[1][1])}
              stroke="#ff0000"
              strokeWidth={8}
            />
            <text x={213} y={795} fontFamily={sans} fontWeight="bold" fontSize={36} fill="#000">
              Rms misfit ~ 8cm
            </text>
          </g>
        )}
      </Panel>
      <text x={58} y={1007} fontFamily={sans} fontSize={42} letterSpacing={4} fill="#000">
        2002
      </text>
      <text x={685} y={1007} fontFamily={sans} fontSize={42} letterSpacing={4} fill="#000">
        2008
      </text>
    </svg>
  );
}
